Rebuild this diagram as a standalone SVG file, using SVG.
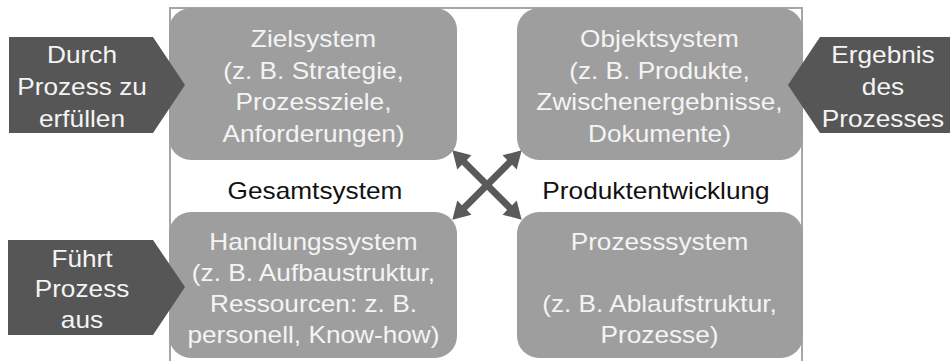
<svg xmlns="http://www.w3.org/2000/svg" width="950" height="361" viewBox="0 0 950 361">
  <style>
    .frame { fill: none; stroke: #a6a6a6; stroke-width: 2; }
    .box { fill: #9e9e9e; }
    .tag { fill: #565656; }
    .arrow { fill: #5a5a5a; }
    text { font-family: "Liberation Sans", Arial, sans-serif; font-size: 23px; text-anchor: middle; }
    .light { fill: #f4f4f4; }
    .dark { fill: #111111; }
  </style>
  <rect width="950" height="361" fill="#ffffff"/>

  <!-- surrounding frame of the overall system -->
  <rect id="gesamtsystem-rahmen" class="frame" x="170" y="8" width="632" height="360"/>

  <!-- subsystems -->
  <g id="zielsystem">
    <rect class="box" x="169" y="8" width="288" height="152" rx="22"/>
    <g transform="translate(313.5 0) scale(1.14 1)">
      <text class="light" x="0" y="47.5">Zielsystem</text>
      <text class="light" x="0" y="79">(z. B. Strategie,</text>
      <text class="light" x="0" y="110.5">Prozessziele,</text>
      <text class="light" x="0" y="142">Anforderungen)</text>
    </g>
  </g>

  <g id="objektsystem">
    <rect class="box" x="517" y="8" width="286" height="152" rx="22"/>
    <g transform="translate(659.5 0) scale(1.14 1)">
      <text class="light" x="0" y="47.5">Objektsystem</text>
      <text class="light" x="0" y="79">(z. B. Produkte,</text>
      <text class="light" x="0" y="110.5">Zwischenergebnisse,</text>
      <text class="light" x="0" y="142">Dokumente)</text>
    </g>
  </g>

  <g id="handlungssystem">
    <rect class="box" x="169" y="212" width="288" height="146" rx="22"/>
    <g transform="translate(313.5 0) scale(1.14 1)">
      <text class="light" x="0" y="250">Handlungssystem</text>
      <text class="light" x="0" y="281">(z. B. Aufbaustruktur,</text>
      <text class="light" x="0" y="312">Ressourcen: z. B.</text>
      <text class="light" x="0" y="343">personell, Know-how)</text>
    </g>
  </g>

  <g id="prozesssystem">
    <rect class="box" x="517" y="212" width="286" height="146" rx="22"/>
    <g transform="translate(659.5 0) scale(1.14 1)">
      <text class="light" x="0" y="250">Prozesssystem</text>
      <text class="light" x="0" y="312">(z. B. Ablaufstruktur,</text>
      <text class="light" x="0" y="343">Prozesse)</text>
    </g>
  </g>

  <!-- frame labels -->
  <g id="label-gesamtsystem" transform="translate(315 0) scale(1.14 1)">
    <text class="dark" x="0" y="199">Gesamtsystem</text>
  </g>
  <g id="label-produktentwicklung" transform="translate(656 0) scale(1.14 1)">
    <text class="dark" x="0" y="199">Produktentwicklung</text>
  </g>

  <!-- outside roles (pentagon tags) -->
  <g id="tag-erfuellen">
    <polygon class="tag" points="9,37 153,37 185,85 153,133 9,133"/>
    <g transform="translate(82 0) scale(1.14 1)">
      <text class="light" x="0" y="63">Durch</text>
      <text class="light" x="0" y="95">Prozess zu</text>
      <text class="light" x="0" y="127">erfüllen</text>
    </g>
  </g>

  <g id="tag-ergebnis">
    <polygon class="tag" points="950,37 820,37 788,85 820,133 950,133"/>
    <g transform="translate(883 0) scale(1.14 1)">
      <text class="light" x="0" y="63">Ergebnis</text>
      <text class="light" x="0" y="95">des</text>
      <text class="light" x="0" y="127">Prozesses</text>
    </g>
  </g>

  <g id="tag-ausfuehren">
    <polygon class="tag" points="8,240 153,240 185,287 153,335 8,335"/>
    <g transform="translate(82 0) scale(1.14 1)">
      <text class="light" x="0" y="267">Führt</text>
      <text class="light" x="0" y="297.5">Prozess</text>
      <text class="light" x="0" y="328">aus</text>
    </g>
  </g>

  <!-- crossing double arrows between the subsystems -->
  <g id="connectors">
    <polygon class="arrow" transform="translate(487 185) rotate(45)"
      points="-49,0 -32,-10 -32,-3.5 32,-3.5 32,-10 49,0 32,10 32,3.5 -32,3.5 -32,10"/>
    <polygon class="arrow" transform="translate(487 185) rotate(-45)"
      points="-49,0 -32,-10 -32,-3.5 32,-3.5 32,-10 49,0 32,10 32,3.5 -32,3.5 -32,10"/>
  </g>
</svg>
